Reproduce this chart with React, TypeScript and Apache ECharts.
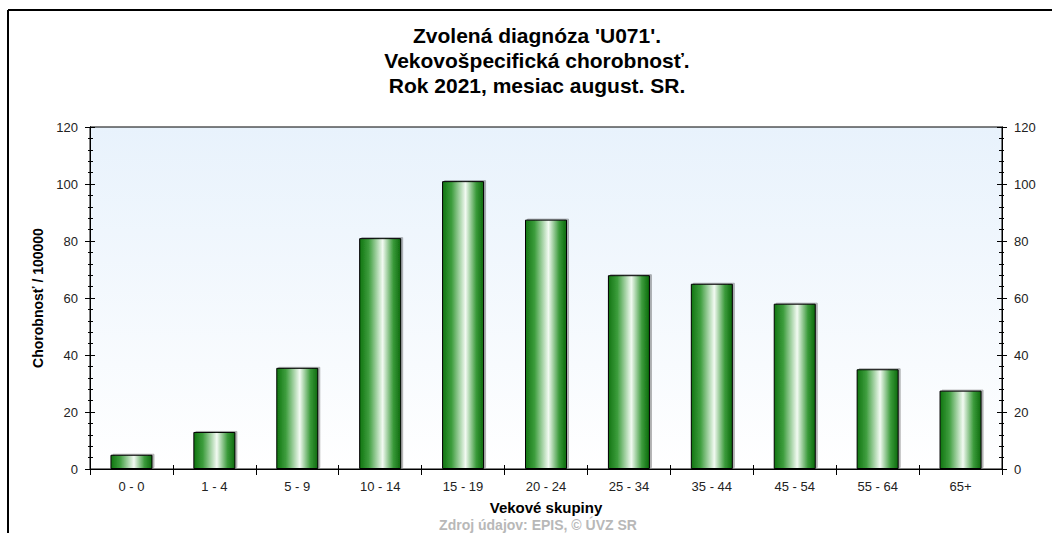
import React, { useEffect, useRef } from "react";
import * as echarts from "echarts";

const categories = ["0 - 0", "1 - 4", "5 - 9", "10 - 14", "15 - 19", "20 - 24", "25 - 34", "35 - 44", "45 - 54", "55 - 64", "65+"];
const values = [5, 13, 35.5, 81, 101, 87.5, 68, 65, 58, 35, 27.5];
const titleLines = ["Zvolená diagnóza 'U071'.", "Vekovošpecifická chorobnosť.", "Rok 2021, mesiac august. SR."];
const yAxisTitle = "Chorobnosť / 100000";
const xAxisTitle = "Vekové skupiny";
const sourceText = "Zdroj údajov: EPIS, © ÚVZ SR";

const FONT = "Liberation Sans, Arial, sans-serif";

export default function App() {
  const ref = useRef<HTMLDivElement>(null);
  useEffect(() => {
    if (!ref.current) return;
    const chart = echarts.init(ref.current, null, { renderer: "svg" });
    const barGradient = new echarts.graphic.LinearGradient(0, 0, 1, 0, [
      { offset: 0, color: "#117511" },
      { offset: 0.22, color: "#3d9d3d" },
      { offset: 0.56, color: "#f2faf2" },
      { offset: 0.82, color: "#3a9a3a" },
      { offset: 1, color: "#0c6a0c" },
    ]);
    const yBase = {
      type: "value" as const,
      min: 0,
      max: 120,
      interval: 20,
      splitNumber: 6,
      splitLine: { show: false },
      axisLine: { show: true, lineStyle: { color: "#000", width: 1 } },
    };
    const xBase = {
      type: "category" as const,
      data: categories,
      boundaryGap: true,
      splitLine: { show: false },
      axisLine: { show: true, lineStyle: { color: "#000", width: 1 } },
    };
    const titleGraphics = titleLines.map((t, i) => ({
      type: "text",
      x: 537,
      y: 35 + i * 25,
      style: { text: t, fontFamily: FONT, fontSize: 21, fontWeight: "bold", fill: "#000", textAlign: "center", textVerticalAlign: "middle" },
    }));
    chart.setOption({
      animation: false,
      backgroundColor: "#ffffff",
      grid: { left: 90, top: 127, width: 912, height: 342, containLabel: false, show: true, borderColor: "#000", borderWidth: 1,
        backgroundColor: new echarts.graphic.LinearGradient(0, 0, 0, 1, [
          { offset: 0, color: "#e8f2fc" },
          { offset: 1, color: "#ffffff" },
        ]) },
      xAxis: [
        {
          ...xBase,
          position: "bottom",
          axisTick: { show: true, inside: false, length: 6, lineStyle: { color: "#000" } },
          axisLabel: { show: true, fontFamily: FONT, fontSize: 13, color: "#222", margin: 11 },
          name: xAxisTitle,
          nameLocation: "middle",
          nameGap: 31,
          nameTextStyle: { fontFamily: FONT, fontSize: 15, fontWeight: "bold", color: "#000" },
        },
        {
          ...xBase,
          position: "bottom",
          axisTick: { show: true, inside: true, length: 4, lineStyle: { color: "#000" } },
          axisLabel: { show: false },
        },
      ],
      yAxis: [
        {
          ...yBase,
          position: "left",
          axisTick: { show: true, inside: false, length: 5, lineStyle: { color: "#000" } },
          minorTick: { show: true, splitNumber: 5, length: 2, lineStyle: { color: "#000" } },
          axisLabel: { show: true, fontFamily: FONT, fontSize: 13, color: "#222", margin: 12 },
          name: yAxisTitle,
          nameLocation: "middle",
          nameRotate: 90,
          nameGap: 43,
          nameTextStyle: { fontFamily: FONT, fontSize: 14, fontWeight: "bold", color: "#000" },
        },
        {
          ...yBase,
          position: "left",
          axisTick: { show: true, inside: true, length: 5, lineStyle: { color: "#000" } },
          minorTick: { show: true, splitNumber: 5, length: 3, lineStyle: { color: "#000" } },
          axisLabel: { show: false },
        },
        {
          ...yBase,
          position: "right",
          axisTick: { show: true, inside: false, length: 5, lineStyle: { color: "#000" } },
          minorTick: { show: true, splitNumber: 5, length: 2, lineStyle: { color: "#000" } },
          axisLabel: { show: true, fontFamily: FONT, fontSize: 13, color: "#222", margin: 12 },
        },
        {
          ...yBase,
          position: "right",
          axisTick: { show: true, inside: true, length: 5, lineStyle: { color: "#000" } },
          minorTick: { show: true, splitNumber: 5, length: 3, lineStyle: { color: "#000" } },
          axisLabel: { show: false },
        },
      ],
      series: [
        {
          type: "bar",
          data: values,
          xAxisIndex: 0,
          yAxisIndex: 0,
          barWidth: 42,
          itemStyle: {
            color: barGradient,
            borderColor: "#000",
            borderWidth: 1,
            shadowColor: "rgba(0,0,0,0.3)",
            shadowOffsetX: 2,
            shadowOffsetY: -1,
            shadowBlur: 1,
          },
        },
      ],
      graphic: [
        ...titleGraphics,
        { type: "line", shape: { x1: 8, y1: 10, x2: 1052, y2: 10 }, style: { stroke: "#000", lineWidth: 2 } },
        { type: "line", shape: { x1: 8, y1: 10, x2: 8, y2: 533 }, style: { stroke: "#000", lineWidth: 2 } },
        {
          type: "text",
          x: 538,
          y: 518,
          style: { text: sourceText, fontFamily: FONT, fontSize: 14, fontWeight: "bold", fill: "#b8b8b8", textAlign: "center", textVerticalAlign: "top" },
        },
      ],
    });
    return () => chart.dispose();
  }, []);
  return <div ref={ref} style={{ position: "fixed", left: 0, top: 0, width: 1052, height: 533 }} />;
}
